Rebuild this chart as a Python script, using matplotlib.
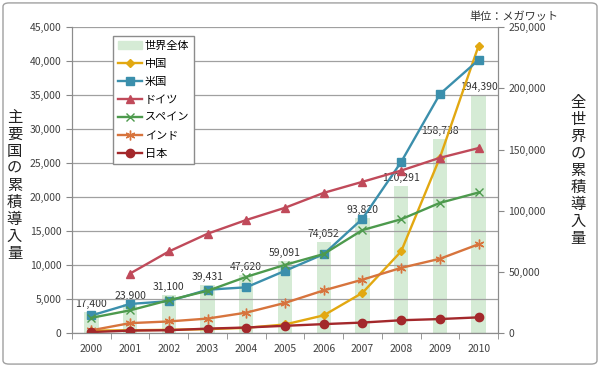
import numpy as np
import matplotlib.pyplot as plt
from matplotlib.patches import FancyBboxPatch

plt.rcParams['font.family'] = ['Noto Sans CJK JP', 'DejaVu Sans']

years = ['2000', '2001', '2002', '2003', '2004', '2005', '2006', '2007', '2008', '2009', '2010']
world = [17400, 23900, 31100, 39431, 47620, 59091, 74052, 93820, 120291, 158738, 194390]
china = [352, 404, 470, 568, 764, 1260, 2599, 5912, 12020, 25805, 42287]
usa = [2578, 4275, 4685, 6372, 6725, 9149, 11603, 16819, 25170, 35159, 40180]
germany = [np.nan, 8754, 11994, 14609, 16629, 18428, 20622, 22247, 23903, 25777, 27214]
spain = [2235, 3337, 4825, 6203, 8263, 10027, 11623, 15145, 16740, 19149, 20676]
india = [400, 1456, 1702, 2125, 3000, 4430, 6270, 7850, 9587, 10925, 13065]
japan = [142, 357, 415, 644, 809, 1061, 1309, 1538, 1880, 2056, 2304]

fig = plt.figure(figsize=(6, 3.67), dpi=100)
fig.patches.append(FancyBboxPatch((0.005, 0.008), 0.99, 0.984, boxstyle='round,pad=0,rounding_size=0.01',
                                  transform=fig.transFigure, fill=False, edgecolor='#a0a0a0', lw=1))

ax = fig.add_axes([0.12, 0.0926, 0.71, 0.8334])
ax2 = ax.twinx()
x = np.arange(len(years))
tick_col = '#404040'

# world bars on the secondary axis, behind the lines
ax2.bar(x, world, width=0.37, color='#d5ebd5', zorder=1)
for xi, v in zip(x, world):
    ax2.text(xi, v + 2500, f'{v:,}', ha='center', va='bottom', fontsize=7.5, color='#333333', zorder=5)
ax2.set_ylim(0, 250000)
ax2.set_yticks(np.arange(0, 250001, 50000))
ax2.set_yticklabels([f'{v:,}' for v in range(0, 250001, 50000)], fontsize=7.5, color=tick_col)

ax.set_zorder(ax2.get_zorder() + 1)
ax.patch.set_visible(False)

series = [
    ('中国', china, '#e2a811', 'D', 4),
    ('米国', usa, '#3b8fac', 's', 6),
    ('ドイツ', germany, '#c04a5a', '^', 6),
    ('スペイン', spain, '#4d9a4d', 'x', 6),
    ('インド', india, '#d7743d', (6, 2, 0), 7),
    ('日本', japan, '#a3282b', 'o', 6),
]
handles = []
for name, vals, col, mk, ms in series:
    h, = ax.plot(x, vals, color=col, lw=1.7, marker=mk, ms=ms, mew=1.0, label=name)
    handles.append(h)

ax.set_ylim(0, 45000)
ax.set_xlim(-0.5, 10.5)
ax.set_yticks(np.arange(0, 45001, 5000))
ax.set_yticklabels([f'{v:,}' for v in range(0, 45001, 5000)], fontsize=7.5, color=tick_col)
ax.yaxis.grid(True, color='#a0a0a0', lw=0.9)
ax.set_axisbelow(True)
ax.set_xticks(x)
ax.set_xticklabels(years, fontsize=7.5, color=tick_col)
ax.tick_params(axis='x', which='major', length=0, pad=8)
ax.set_xticks(np.arange(-0.5, 10.6, 1), minor=True)
ax.tick_params(axis='x', which='minor', length=4, color='#888888')
ax.tick_params(axis='y', length=4, color='#888888')
ax2.tick_params(axis='y', length=4, color='#888888')

for a in (ax, ax2):
    a.spines['top'].set_visible(False)
    for s in ('left', 'right', 'bottom'):
        a.spines[s].set_color('#8c8c8c')

bar_handle = plt.Rectangle((0, 0), 1, 1, color='#d5ebd5')
leg = ax.legend([bar_handle] + handles, ['世界全体'] + [s[0] for s in series],
                loc='upper left', bbox_to_anchor=(0.083, 0.99), fontsize=8,
                frameon=True, fancybox=False, edgecolor='#8c8c8c', framealpha=1,
                handlelength=2.2, labelspacing=0.72, borderpad=0.45, handletextpad=0.2)
leg.set_zorder(10)

fig.text(0.024, 0.495, '\n'.join('主要国の累積導入量'), ha='center', va='center', fontsize=11,
         color='#222222', linespacing=1.0)
fig.text(0.963, 0.535, '\n'.join('全世界の累積導入量'), ha='center', va='center', fontsize=11,
         color='#222222', linespacing=1.0)
fig.text(0.93, 0.955, '単位：メガワット', ha='right', va='center', fontsize=8, color='#333333')

fig.savefig('out.png', dpi=100)
